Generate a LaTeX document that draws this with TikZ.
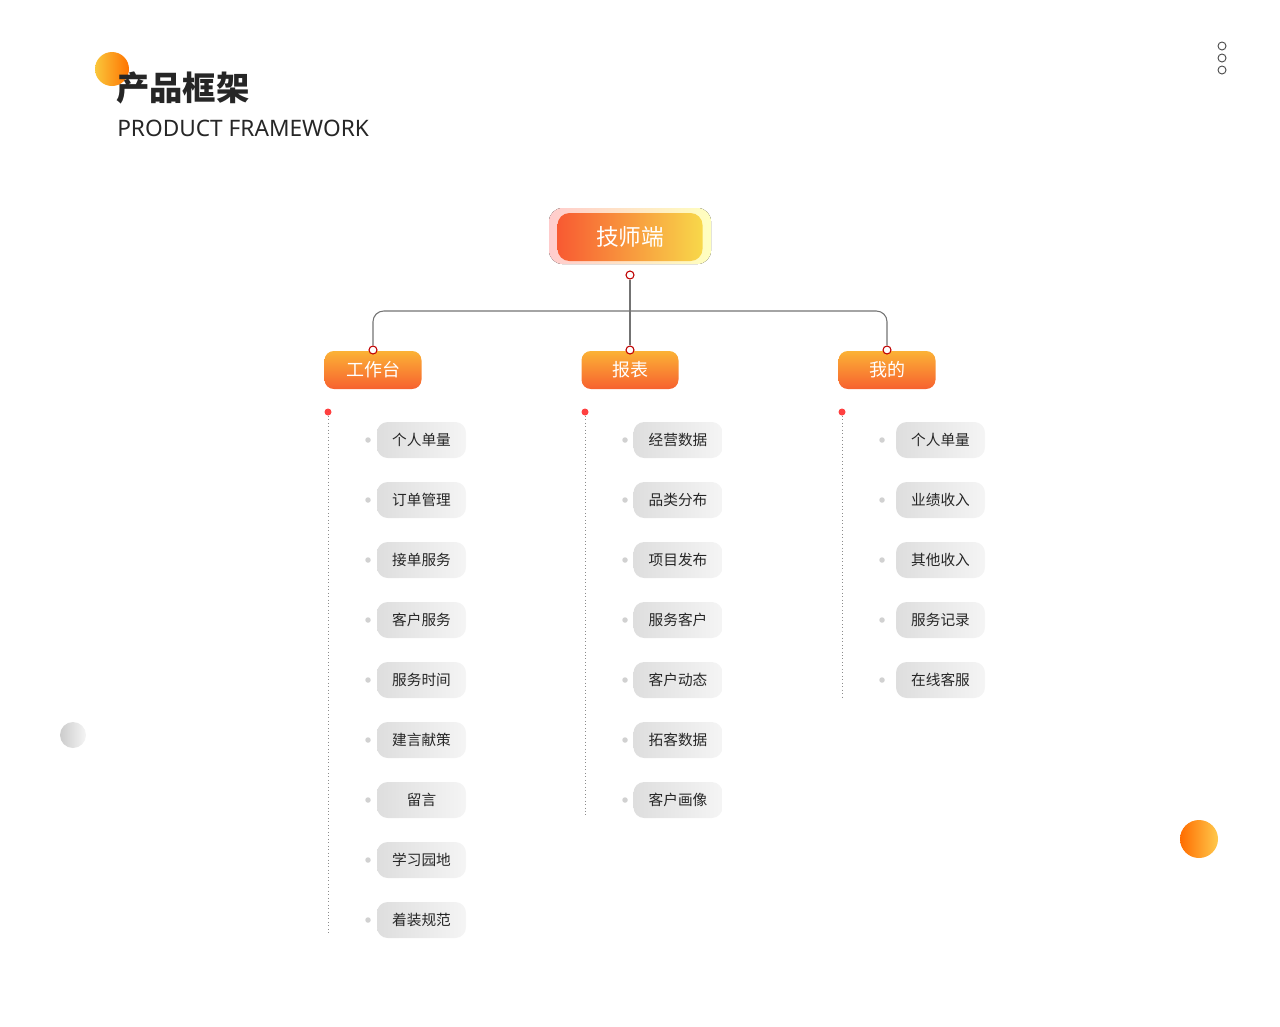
\documentclass[tikz,border=0pt]{standalone}
\usepackage{fontspec}
\setmainfont{Noto Sans CJK SC}
\newfontfamily\latinf{Noto Sans}
\begin{document}
\begin{tikzpicture}[x=0.75pt,y=-0.75pt]
\definecolor{ored}{HTML}{F85A32}
\definecolor{oyel}{HTML}{F8D84A}
\definecolor{otop}{HTML}{FBB236}
\definecolor{obot}{HTML}{F7612F}
\tikzset{
 lvl/.style={rounded corners=7pt,minimum width=97*0.75pt,minimum height=38*0.75pt,top color=otop,bottom color=obot,draw=none,text=white,font=\fontsize{13.5}{14}\selectfont},
 item/.style={rounded corners=8pt,minimum width=89*0.75pt,minimum height=36*0.75pt,left color=black!13,right color=black!4,draw=none,text=black!85,font=\fontsize{11}{12}\selectfont,inner sep=0pt},
 gdot/.style={circle,fill=black!18,minimum size=5.5*0.75pt,inner sep=0pt},
 rdot/.style={circle,fill=red!75,minimum size=7*0.75pt,inner sep=0pt},
 hdot/.style={circle,draw=red!75!black,fill=white,line width=0.8pt,minimum size=8*0.75pt,inner sep=0pt},
 vline/.style={black!45,dotted,line width=0.6pt},
 conn/.style={black!55,line width=0.8pt}
}
\useasboundingbox (0,0) rectangle (1280,1026);
% decorations
\shade[left color=oyel!80!orange,right color=orange!90!red] (112,69) circle (17);
\node[anchor=west,font=\fontsize{25}{26}\selectfont\bfseries,text=black!85,inner sep=0] (title) at (116,88) {产品框架};
\node[anchor=west,font=\latinf\fontsize{17}{18}\selectfont,text=black!85,inner sep=0] (sub) at (117,128) {PRODUCT FRAMEWORK};
\foreach \yy in {46,58,70} \draw[black!70,line width=0.7pt] (1222,\yy) circle (4);
\shade[left color=black!20,right color=black!4] (73,735) circle (13);
\shade[left color=orange!85!red,right color=orange!60!yellow!70!white] (1199,839) circle (19);
% root
\fill[rounded corners=10pt,left color=red!20,right color=yellow!25] (549,208) rectangle (711,264);
\node[rounded corners=9pt,minimum width=145*0.75pt,minimum height=48*0.75pt,left color=ored,right color=oyel,text=white,font=\fontsize{17}{18}\selectfont] (root) at (630,237) {技师端};
\node[hdot] (rc) at (630,275) {};
% level 2
\node[lvl] (a) at (373,370) {工作台};
\node[lvl] (b) at (630,370) {报表};
\node[lvl] (c) at (887,370) {我的};
\node[hdot] (ac) at (373,350) {};
\node[hdot] (bc) at (630,350) {};
\node[hdot] (cc) at (887,350) {};
\coordinate (hl) at (373,311);
\coordinate (hr) at (887,311);
\draw[conn] (rc) -- (bc);
\draw[conn,rounded corners=8pt] (ac) -- (hl) -- (hr) -- (cc);
% columns
\newcommand{\column}[5]{%
 \node[rdot] (#1top) at (#2,412) {};
 \coordinate (#1bot) at (#2,#3);
 \draw[vline] (#1top) -- (#1bot);
 \foreach \t [count=\i from 0] in {#5} {
   \node[gdot] (#1g\i) at (#2+40,440+60*\i) {};
   \node[item] (#1i\i) at (#2+#4,440+60*\i) {\t};
 }}
\column{A}{328}{935}{93.5}{个人单量,订单管理,接单服务,客户服务,服务时间,建言献策,留言\hspace{3em},学习园地,着装规范}
\column{B}{585}{815}{93}{经营数据,品类分布,项目发布,服务客户,客户动态,拓客数据,客户画像}
\column{C}{842}{698}{98.5}{个人单量,业绩收入,其他收入,服务记录,在线客服}
\end{tikzpicture}
\end{document}
